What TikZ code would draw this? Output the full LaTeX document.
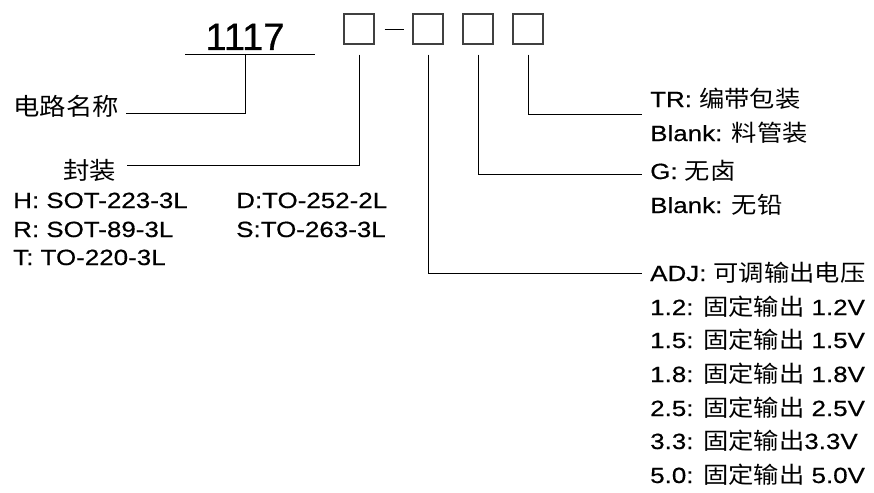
\documentclass[tikz,border=0pt]{standalone}
\usepackage{fontspec}
\setmainfont{Liberation Sans}[FakeStretch=1.18, FakeBold=0.5]
\newfontfamily\cjk{Noto Sans CJK SC}[FakeStretch=1.1]
\newfontfamily\bigfont{Liberation Sans}[FakeBold=0.8]
\tikzset{font={\fontsize{22pt}{24}\selectfont},
  codebox/.style={draw=black!75, line width=1.3pt, minimum width=30pt, minimum height=30pt, inner sep=0pt},
  leader/.style={line width=0.9pt},
  txt/.style={anchor=base west, inner sep=0pt},
  cnlabel/.style={anchor=west, inner sep=0pt, font={\cjk\fontsize{24pt}{26}\selectfont}}}
\newcommand{\cn}[1]{{\cjk\fontsize{23pt}{24}\selectfont #1}}

\begin{document}
\begin{tikzpicture}[x=1pt,y=-1pt]
  \useasboundingbox (0,0) rectangle (874,492);
  %part number
  \node[anchor=base, inner sep=0pt, font={\bigfont\fontsize{38pt}{40}\selectfont}] (num) at (245,50) {1117};
  \coordinate (ulL) at (185,54);
  \coordinate (ulR) at (315,54);
  \coordinate (ulM) at (245,54);
  \draw[leader] (ulL) -- (ulR);
  %code boxes
  \foreach \n/\x in {b1/359, b2/428, b3/478, b4/528}
    \node[codebox] (\n) at (\x,29) {};
  \draw[leader, shorten <=10pt, shorten >=8pt] (b1.east) -- (b2.west);
  %left labels
  \node[cnlabel] (name) at (13,106) {电路名称};
  \node[cnlabel] (pkg) at (63,170) {封装};
  \coordinate (nameend) at (126,113);
  \coordinate (pkgend) at (127,165);
  \draw[leader] (ulM) |- (nameend);
  \draw[leader, shorten <=10pt] (b1.south) |- (pkgend);
  %packages
  \node[txt] (pH) at (13,208) {H: SOT-223-3L};
  \node[txt] (pR) at (13,237) {R: SOT-89-3L};
  \node[txt] (pT) at (13,265) {T: TO-220-3L};
  \node[txt] (pD) at (236,208) {D:TO-252-2L};
  \node[txt] (pS) at (236,237) {S:TO-263-3L};
  %right leaders
  \coordinate (trend) at (642,114);
  \coordinate (gend) at (642,174);
  \coordinate (adjend) at (642,273);
  \draw[leader, shorten <=10pt] (b4.south) |- (trend);
  \draw[leader, shorten <=10pt] (b3.south) |- (gend);
  \draw[leader, shorten <=10pt] (b2.south) |- (adjend);
  %packing and lead
  \node[txt] (tr) at (650,107) {TR: \cn{编带包装}};
  \node[txt] (tube) at (650,141) {Blank: \cn{料管装}};
  \node[txt] (hf) at (650,179) {G: \cn{无卤}};
  \node[txt] (pbf) at (650,213) {Blank: \cn{无铅}};
  %output voltage
  \node[txt] (adj) at (650,281) {ADJ: \cn{可调输出电压}};
  \node[txt] (v12) at (650,315) {1.2: \cn{固定输出} 1.2V};
  \node[txt] (v15) at (650,348) {1.5: \cn{固定输出} 1.5V};
  \node[txt] (v18) at (650,382) {1.8: \cn{固定输出} 1.8V};
  \node[txt] (v25) at (650,416) {2.5: \cn{固定输出} 2.5V};
  \node[txt] (v33) at (650,449) {3.3: \cn{固定输出}3.3V};
  \node[txt] (v50) at (650,483) {5.0: \cn{固定输出} 5.0V};
\end{tikzpicture}
\end{document}
